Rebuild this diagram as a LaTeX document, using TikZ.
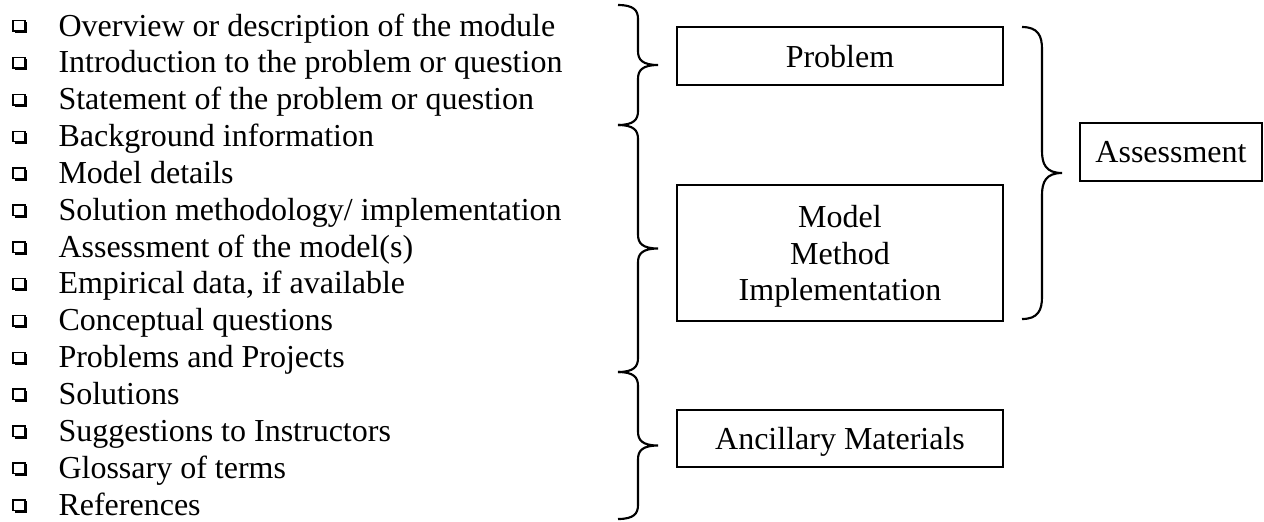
\documentclass[tikz,border=0pt]{standalone}
\usepackage{fontspec}
\setmainfont{Liberation Serif}
\tikzset{
  box/.style={draw,line width=0.75pt,inner sep=0pt,text depth=0pt,font=\fontsize{12pt}{13.8pt}\selectfont},
  item/.style={anchor=base west,inner sep=0pt,font=\fontsize{12pt}{13.8pt}\selectfont},
  braceline/.style={line width=0.8pt},
  chkbox/.pic={
    \draw[line width=0.55pt] (0,-15.3) rectangle (12,-4.8);
    \draw[line width=0.8pt] (1.5,-3.6) -| (13.3,-13.8);
  }
}
% #1 x of the ends, #2 top, #3 bottom, #4 length of the curls
\newcommand{\sidebrace}[4]{%
  \draw[braceline] (#1,#2) .. controls ({#1+16},#2) and ({#1+20},{#2+0.4*#4}) .. ({#1+20},{#2+#4})
    -- ({#1+20},{(#2+#3)/2-#4}) .. controls ({#1+20},{(#2+#3)/2-0.4*#4}) and ({#1+24},{(#2+#3)/2}) .. ({#1+40},{(#2+#3)/2})
    .. controls ({#1+24},{(#2+#3)/2}) and ({#1+20},{(#2+#3)/2+0.4*#4}) .. ({#1+20},{(#2+#3)/2+#4})
    -- ({#1+20},{#3-#4}) .. controls ({#1+20},{#3-0.4*#4}) and ({#1+16},#3) .. (#1,#3);}
\begin{document}
\begin{tikzpicture}[x=0.375pt,y=-0.375pt]
\useasboundingbox (0,0) rectangle (1264,521);
% list of contents
\foreach \txt [count=\i] in {Overview or description of the module,
  Introduction to the problem or question,Statement of the problem or question,
  Background information,Model details,Solution methodology/ implementation,
  Assessment of the model(s),{Empirical data, if available},Conceptual questions,
  Problems and Projects,Solutions,Suggestions to Instructors,Glossary of terms,References}{
  \pgfmathsetmacro\yb{36+36.85*(\i-1)}
  \pic at (13,\yb) {chkbox};
  \node[item] (item\i) at (58,\yb) {\txt};
}
\sidebrace{618}{5}{125}{14}
\sidebrace{618}{125}{372}{14}
\sidebrace{618}{372}{519}{14}
% parts
\node[box,minimum width=122.25pt,minimum height=21.75pt] (problem) at (840,56) {Problem};
\node[box,minimum width=122.25pt,minimum height=51pt,align=center] (model) at (840,253) {Model\\Method\\Implementation};
\node[box,minimum width=122.25pt,minimum height=21.4pt] (ancillary) at (840,438.5) {Ancillary Materials};
\sidebrace{1022}{27}{319}{22}
\node[box,minimum width=68.25pt,minimum height=21.75pt] (assessment) at (1171,152) {Assessment};
\end{tikzpicture}
\end{document}
